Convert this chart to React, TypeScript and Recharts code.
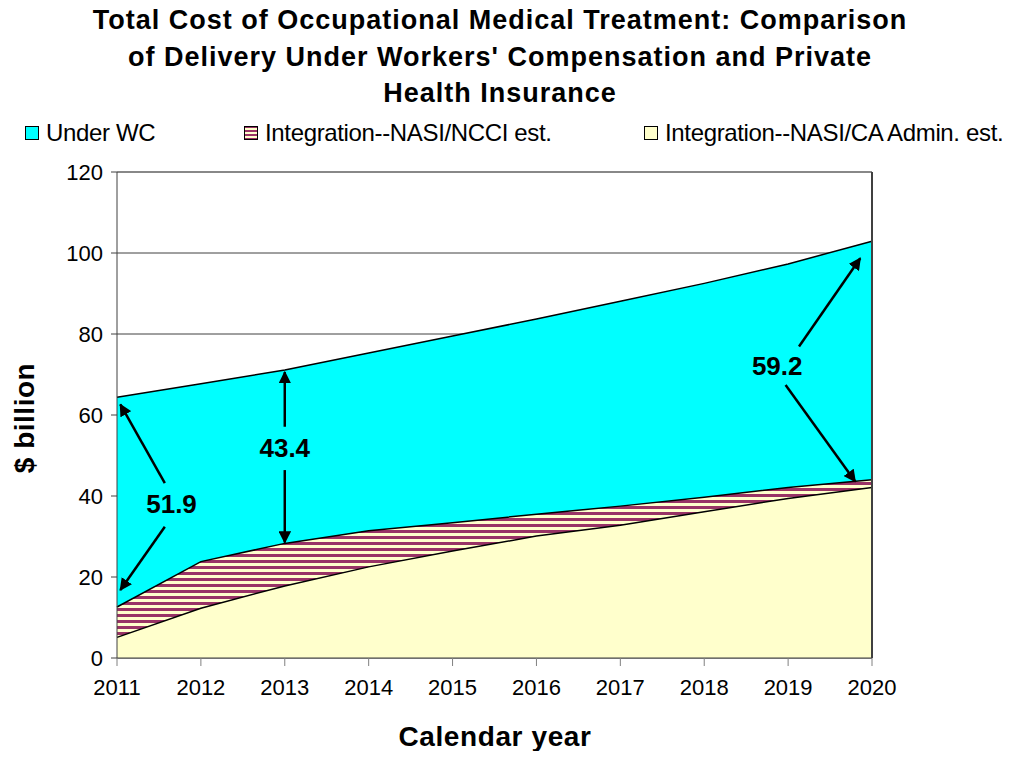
import { AreaChart, Area, XAxis, YAxis, CartesianGrid, ReferenceLine, ReferenceDot } from 'recharts';

const years = [2011, 2012, 2013, 2014, 2015, 2016, 2017, 2018, 2019, 2020];
const underWC = [64.4, 67.7, 71.1, 75.3, 79.5, 83.7, 88.1, 92.5, 97.3, 102.9];
const nasiNcci = [12.6, 23.8, 28.3, 31.4, 33.4, 35.5, 37.5, 39.7, 42.1, 44.0];
const nasiCa = [5.1, 12.3, 17.8, 22.5, 26.4, 30.1, 32.8, 36.1, 39.4, 42.1];
const yTicks = [0, 20, 40, 60, 80, 100, 120];

// annotation arrows, in data units: [x1, y1, x2, y2] (arrow head at x2,y2)
const arrows = [
  [2011.57, 43.2, 2011.04, 62.6],
  [2011.57, 32.4, 2011.04, 16.8],
  [2013, 57.1, 2013, 70.6],
  [2013, 46.4, 2013, 28.5],
  [2019.13, 76.9, 2019.86, 98.7],
  [2018.97, 67.4, 2019.8, 43.6],
];
const notes = [
  { x: 2011.65, y: 38.2, text: '51.9' },
  { x: 2013, y: 52.0, text: '43.4' },
  { x: 2018.87, y: 72.1, text: '59.2' },
];

const chartData = years.map((year, i) => ({
  year,
  wc: underWC[i],
  ncci: nasiNcci[i],
  ca: nasiCa[i],
}));

const font = '"Liberation Sans", Arial, sans-serif';

const ArrowLine = (props: any) => {
  const { x1, y1, x2, y2 } = props;
  return <line x1={x1} y1={y1} x2={x2} y2={y2} stroke="#000" strokeWidth={2.5} markerEnd="url(#arrowHead)" />;
};

const legendItems = [
  { label: 'Under WC', fill: '#00FFFF', left: 17 },
  { label: 'Integration--NASI/NCCI est.', fill: 'url(#legendStripes)', left: 236 },
  { label: 'Integration--NASI/CA Admin. est.', fill: '#FFFFCC', left: 636 },
];

export default function App() {
  return (
    <div style={{ position: 'relative', width: 1002, height: 743, fontFamily: font, background: '#fff' }}>
      <div
        style={{
          position: 'absolute', left: 0, top: -6, width: 984, textAlign: 'center',
          fontWeight: 'bold', fontSize: 27, lineHeight: '36.5px', letterSpacing: 1, color: '#000',
        }}
      >
        Total Cost of Occupational Medical Treatment: Comparison<br />
        of Delivery Under Workers' Compensation and Private<br />
        Health Insurance
      </div>

      <svg width={0} height={0} style={{ position: 'absolute' }}>
        <defs>
          <pattern id="legendStripes" width={14} height={4} patternUnits="userSpaceOnUse">
            <rect width={14} height={4} fill="#FFFFCC" />
            <rect width={14} height={2} fill="#993366" />
          </pattern>
        </defs>
      </svg>
      {legendItems.map(item => (
        <div
          key={item.label}
          style={{
            position: 'absolute', left: item.left, top: 111, display: 'flex', alignItems: 'center',
            fontSize: 24, whiteSpace: 'nowrap', letterSpacing: -0.35,
          }}
        >
          <svg width={14} height={14} style={{ marginRight: 7 }}>
            <rect x={0.5} y={0.5} width={13} height={13} fill={item.fill} stroke="#000" />
          </svg>
          <span>{item.label}</span>
        </div>
      ))}

      <div
        style={{
          position: 'absolute', left: 17, top: 410, transform: 'translate(-50%, -50%) rotate(-90deg)',
          fontWeight: 'bold', fontSize: 28, whiteSpace: 'nowrap', letterSpacing: 0.5,
        }}
      >
        $ billion
      </div>
      <div style={{ position: 'absolute', left: 0, top: 713, width: 974, textAlign: 'center', fontWeight: 'bold', fontSize: 28, letterSpacing: 0.6 }}>
        Calendar year
      </div>

      <div style={{ position: 'absolute', left: 0, top: 0 }}>
        <AreaChart width={1002} height={743} data={chartData} margin={{ top: 164, right: 138, left: 49, bottom: 43 }}>
          <defs>
            <pattern id="stripes" width={20} height={6} patternUnits="userSpaceOnUse">
              <rect width={20} height={6} fill="#FFFFCC" />
              <rect width={20} height={3} fill="#993366" />
            </pattern>
            <marker id="arrowHead" viewBox="0 0 10 10" refX={9} refY={5} markerWidth={5} markerHeight={5} orient="auto">
              <path d="M0,0 L10,5 L0,10 z" fill="#000" />
            </marker>
          </defs>
          <CartesianGrid vertical={false} stroke="#404040" strokeWidth={1} />
          <XAxis
            type="number"
            dataKey="year"
            domain={[2011, 2020]}
            ticks={years}
            tick={{ fill: '#000', fontSize: 22, fontFamily: font }}
            tickLine={{ stroke: '#808080' }}
            tickSize={8}
            tickMargin={13}
            axisLine={{ stroke: '#404040' }}
            height={50}
          />
          <YAxis
            domain={[0, 120]}
            ticks={yTicks}
            tick={{ fill: '#000', fontSize: 22, fontFamily: font }}
            tickLine={{ stroke: '#404040' }}
            tickSize={6}
            tickMargin={8}
            axisLine={{ stroke: '#404040' }}
            width={60}
          />
          <Area type="linear" dataKey="wc" stroke="#000" strokeWidth={1.5} fill="#00FFFF" fillOpacity={1} isAnimationActive={false} />
          <Area type="linear" dataKey="ncci" stroke="#000" strokeWidth={1.5} fill="url(#stripes)" fillOpacity={1} isAnimationActive={false} />
          <Area type="linear" dataKey="ca" stroke="#000" strokeWidth={1.5} fill="#FFFFCC" fillOpacity={1} isAnimationActive={false} />
          <ReferenceLine y={120} stroke="#808080" strokeWidth={1.5} />
          <ReferenceLine x={2020} stroke="#404040" strokeWidth={2} />
          {arrows.map((a, i) => (
            <ReferenceLine
              key={i}
              segment={[{ x: a[0], y: a[1] }, { x: a[2], y: a[3] }]}
              shape={ArrowLine}
              ifOverflow="visible"
            />
          ))}
          {notes.map(n => (
            <ReferenceDot
              key={n.text}
              x={n.x}
              y={n.y}
              r={0}
              fill="none"
              stroke="none"
              label={{ value: n.text, position: 'center', fontSize: 26, fontWeight: 'bold', fill: '#000', fontFamily: font }}
            />
          ))}
        </AreaChart>
      </div>
    </div>
  );
}
